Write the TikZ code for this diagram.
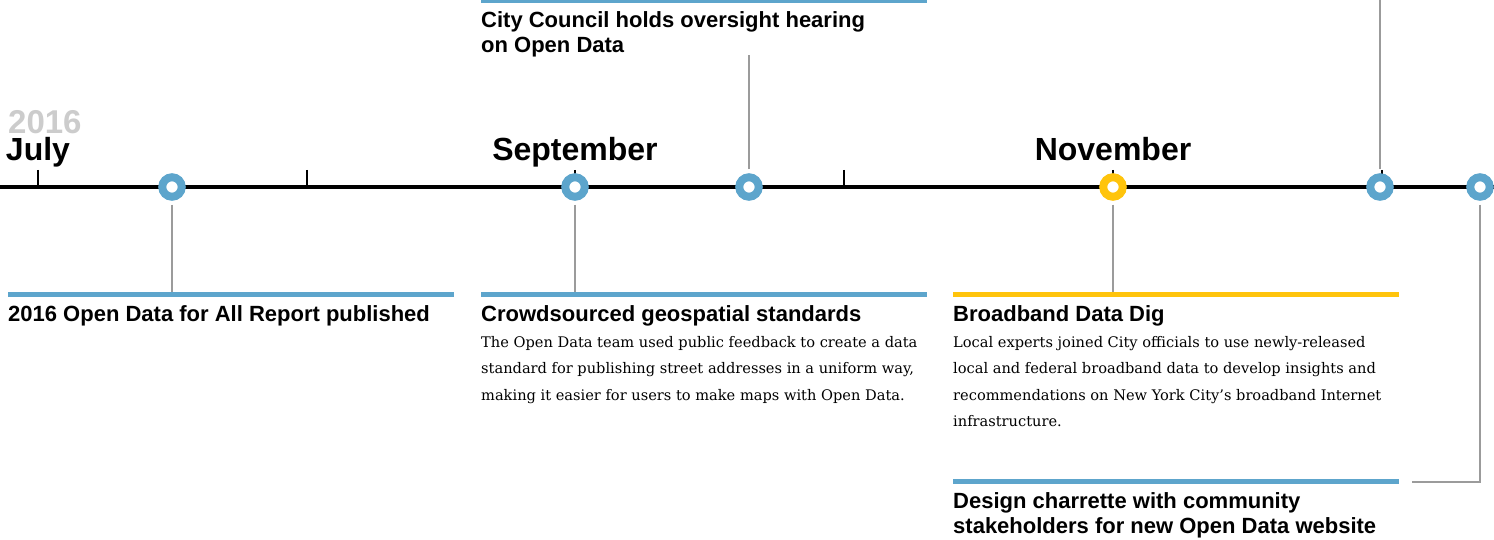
\documentclass[tikz,border=0pt]{standalone}
\usepackage{fontspec}
\setmainfont{DejaVu Serif}
\setsansfont{Liberation Sans}
\definecolor{odblue}{HTML}{5DA5CC}
\definecolor{odyellow}{HTML}{FFC40C}
\definecolor{stemgray}{HTML}{9B9B9B}
\definecolor{yeargray}{HTML}{CCCCCC}
\begin{document}
\begin{tikzpicture}[x=1pt,y=-1pt,
    ring/.style={circle,draw=#1,line width=8pt,fill=white,minimum size=19.5pt,inner sep=0pt},
    bar/.style={draw=#1,line width=5pt},
    stem/.style={draw=stemgray,line width=2pt,shorten <=4pt},
    tick/.style={line width=1.3pt},
    month/.style={font=\sffamily\bfseries\fontsize{32}{32}\selectfont,anchor=base,inner sep=0pt},
    head/.style={font=\sffamily\bfseries\fontsize{22}{25.5}\selectfont,anchor=base west,align=left,inner sep=0pt},
    body/.style={font=\fontsize{14.6}{26.5}\selectfont,anchor=base west,align=left,inner sep=0pt}]
    \useasboundingbox (0,0) rectangle (1494,540);
    \draw[line width=4pt] (0,187) -- (1494,187);
    \foreach \x in {38,307,575,844,1113,1382}
      \draw[tick] (\x,170) -- (\x,187);
    \node[anchor=base west,inner sep=0pt,text=yeargray,font=\sffamily\bfseries\fontsize{33}{33}\selectfont] (year) at (8,134) {2016};
    \node[month] (jul) at (38,161) {July};
    \node[month] (sep) at (575,161) {September};
    \node[month] (nov) at (1113,161) {November};
    \node[ring=odblue] (report) at (172,187) {};
    \node[ring=odblue] (geo) at (575,187) {};
    \node[ring=odblue] (hearing) at (749,187) {};
    \node[ring=odyellow] (dig) at (1113,187) {};
    \node[ring=odblue] (upper) at (1380,187) {};
    \node[ring=odblue] (charrette) at (1480,187) {};
    \coordinate (reportend) at (172,292);
    \coordinate (geoend) at (575,292);
    \coordinate (hearingend) at (749,55);
    \coordinate (digend) at (1113,292);
    \coordinate (upperend) at (1380,-2);
    \coordinate (charretteend) at (1412,481.5);
    \draw[bar=odblue] (481,1) -- (927,1);
    \draw[bar=odblue] (8,294.5) -- (454,294.5);
    \draw[bar=odblue] (481,294.5) -- (927,294.5);
    \draw[bar=odyellow] (953,294.5) -- (1399,294.5);
    \draw[bar=odblue] (953,481.5) -- (1399,481.5);
    \draw[stem] (report) -- (reportend);
    \draw[stem] (geo) -- (geoend);
    \draw[stem] (hearing) -- (hearingend);
    \draw[stem] (dig) -- (digend);
    \draw[stem] (upper) -- (upperend);
    \draw[stem] (charrette) |- (charretteend);
    \node[head] (hearingtitle) at (481,53) {City Council holds oversight hearing\\on Open Data};
    \node[head] (reporttitle) at (8,321) {2016 Open Data for All Report published};
    \node[head] (geotitle) at (481,321) {Crowdsourced geospatial standards};
    \node[body] (geotext) at (481,400) {The Open Data team used public feedback to create a data\\standard for publishing street addresses in a uniform way,\\making it easier for users to make maps with Open Data.};
    \node[head] (digtitle) at (953,321) {Broadband Data Dig};
    \node[body] (digtext) at (953,426.5) {Local experts joined City officials to use newly-released\\local and federal broadband data to develop insights and\\recommendations on New York City's broadband Internet\\infrastructure.};
    \node[head] (charrettetitle) at (953,533.5) {Design charrette with community\\stakeholders for new Open Data website};
  \end{tikzpicture}
\end{document}
